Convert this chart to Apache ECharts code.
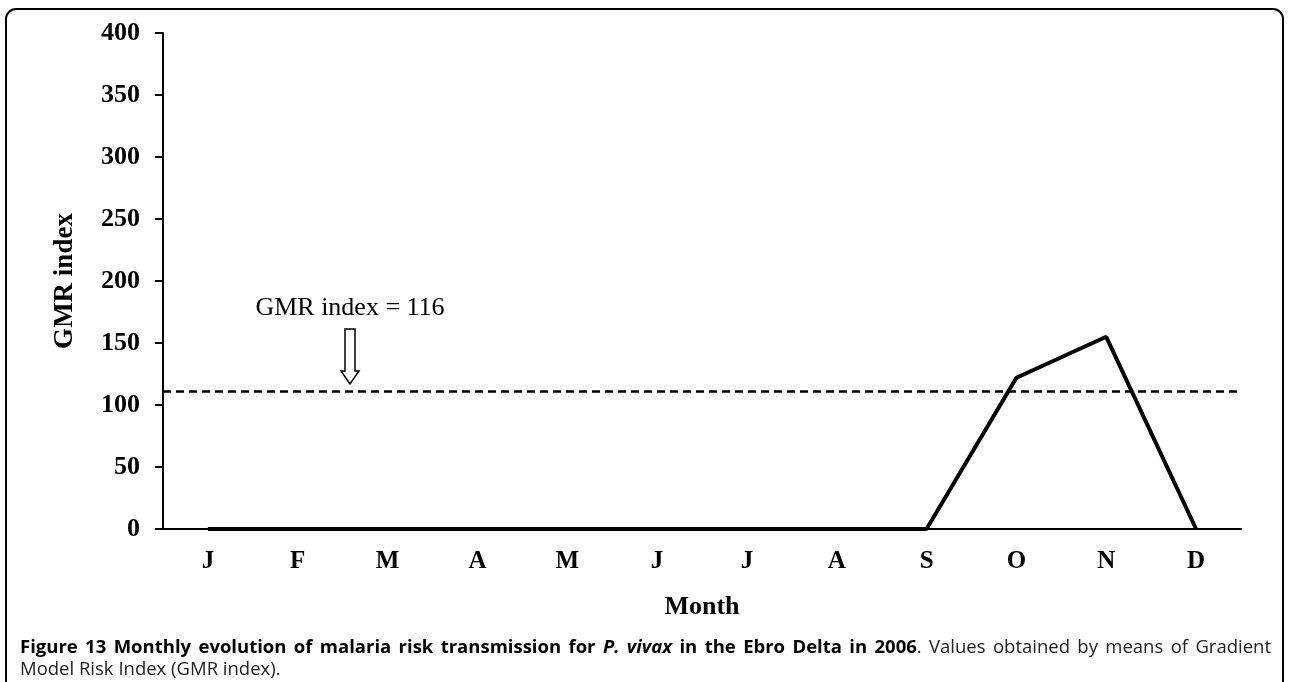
<!DOCTYPE html>
<html>
<head>
<meta charset="utf-8">
<script src="https://cdn.jsdelivr.net/npm/echarts@6/dist/echarts.min.js"></script>
<style>
  html, body { margin: 0; padding: 0; background: #fff; }
  #chart { width: 1289px; height: 682px; }
</style>
</head>
<body>
<div id="chart"></div>
<script>
// data
const months = ['J', 'F', 'M', 'A', 'M', 'J', 'J', 'A', 'S', 'O', 'N', 'D']
const gmrValues = [0, 0, 0, 0, 0, 0, 0, 0, 0, 122, 155, 0]
const thresholdValue = 111 // dashed line as drawn (labelled 116)
const thresholdLabel = 'GMR index = 116'
const yTicks = { min: 0, max: 400, interval: 50 }

const serif = '"Liberation Serif", "Times New Roman", serif'
const sans = '"Open Sans", "Noto Sans", sans-serif'

// caption, first line is justified between x=20 and x=1271
const captionLine1 = [
  ['b', 'Figure 13 Monthly evolution of malaria risk transmission for'],
  ['bi', 'P. vivax'],
  ['b', 'in the Ebro Delta in 2006.'],
  ['r', 'Values obtained by means of Gradient']
]
const captionLine2 = 'Model Risk Index (GMR index).'

const captionSize = 18.5
const captionFonts = {
  b: { fontWeight: 'bold', fontStyle: 'normal', fill: '#000' },
  bi: { fontWeight: 'bold', fontStyle: 'italic', fill: '#000' },
  r: { fontWeight: 'normal', fontStyle: 'normal', fill: '#222' }
}

function justifiedCaption(parts, x0, x1, y) {
  const ctx = document.createElement('canvas').getContext('2d')
  const words = []
  parts.forEach(([k, txt]) => {
    txt.split(' ').forEach(w => {
      // the period after 2006 is regular weight in the figure
      if (w === '2006.') {
        words.push({ k, w: '2006', join: true })
        words.push({ k: 'r', w: '.' })
      } else {
        words.push({ k, w })
      }
    })
  })
  const fontStr = k => `${captionFonts[k].fontStyle} ${captionFonts[k].fontWeight} ${captionSize}px ${sans}`
  let total = 0
  let gaps = 0
  words.forEach((o, i) => {
    ctx.font = fontStr(o.k)
    o.width = ctx.measureText(o.w).width
    total += o.width
    if (i < words.length - 1 && !o.join) gaps++
  })
  const gap = (x1 - x0 - total) / gaps
  let x = x0
  return words.map(o => {
    const el = {
      type: 'text',
      style: {
        x, y, text: o.w, verticalAlign: 'middle',
        fontFamily: sans, fontSize: captionSize,
        fontWeight: captionFonts[o.k].fontWeight,
        fontStyle: captionFonts[o.k].fontStyle,
        fill: captionFonts[o.k].fill
      }
    }
    x += o.width + (o.join ? 0 : gap)
    return el
  })
}

const chart = echarts.init(document.getElementById('chart'))

const option = {
  backgroundColor: '#fff',
  animation: false,
  grid: { left: 163, top: 33, right: 48, bottom: 153 },
  xAxis: {
    type: 'category',
    data: months,
    name: 'Month',
    nameLocation: 'middle',
    nameGap: 65,
    nameTextStyle: { fontFamily: serif, fontWeight: 'bold', fontSize: 26, color: '#000' },
    axisLine: { lineStyle: { color: '#000', width: 2 } },
    axisTick: { length: 8, lineStyle: { color: '#000', width: 2 } },
    axisLabel: { margin: 20, fontFamily: serif, fontWeight: 'bold', fontSize: 25, color: '#000' },
    splitLine: { show: false }
  },
  yAxis: {
    type: 'value',
    min: yTicks.min,
    max: yTicks.max,
    interval: yTicks.interval,
    name: 'GMR index',
    nameLocation: 'middle',
    nameGap: 84,
    nameRotate: 90,
    nameTextStyle: { fontFamily: serif, fontWeight: 'bold', fontSize: 27, color: '#000' },
    axisLine: { show: true, lineStyle: { color: '#000', width: 2 } },
    axisTick: { show: true, length: 8, lineStyle: { color: '#000', width: 2 } },
    axisLabel: { margin: 23, fontFamily: serif, fontWeight: 'bold', fontSize: 26, color: '#000' },
    splitLine: { show: false }
  },
  series: [{
    type: 'line',
    data: gmrValues,
    symbol: 'none',
    lineStyle: { color: '#000', width: 4 },
    z: 3,
    markLine: {
      silent: true,
      symbol: 'none',
      label: { show: false },
      lineStyle: { color: '#000', width: 2.5, type: [8, 5] },
      data: [[
        { coord: [-0.5, thresholdValue], x: 163 },
        { coord: [11.5, thresholdValue], x: 1242 }
      ]]
    }
  }],
  graphic: [
    // figure frame
    {
      type: 'rect',
      shape: { x: 6, y: 9, width: 1277, height: 700, r: [10, 10, 0, 0] },
      style: { fill: 'none', stroke: '#000', lineWidth: 2 },
      silent: true
    },
    // threshold annotation
    {
      type: 'text',
      style: {
        x: 350, y: 308, text: thresholdLabel, align: 'center', verticalAlign: 'middle',
        fontFamily: serif, fontSize: 26, fill: '#000'
      }
    },
    {
      type: 'polygon',
      shape: { points: [[345, 329], [355, 329], [355, 371], [359, 371], [350, 384], [341, 371], [345, 371]] },
      style: { fill: '#fff', stroke: '#000', lineWidth: 1.5 }
    },
    ...justifiedCaption(captionLine1, 20, 1271, 648),
    {
      type: 'text',
      style: {
        x: 20, y: 670, verticalAlign: 'middle',
        text: captionLine2,
        fontFamily: sans, fontSize: captionSize, fill: '#222'
      }
    }
  ]
}

chart.setOption(option)
</script>
</body>
</html>
